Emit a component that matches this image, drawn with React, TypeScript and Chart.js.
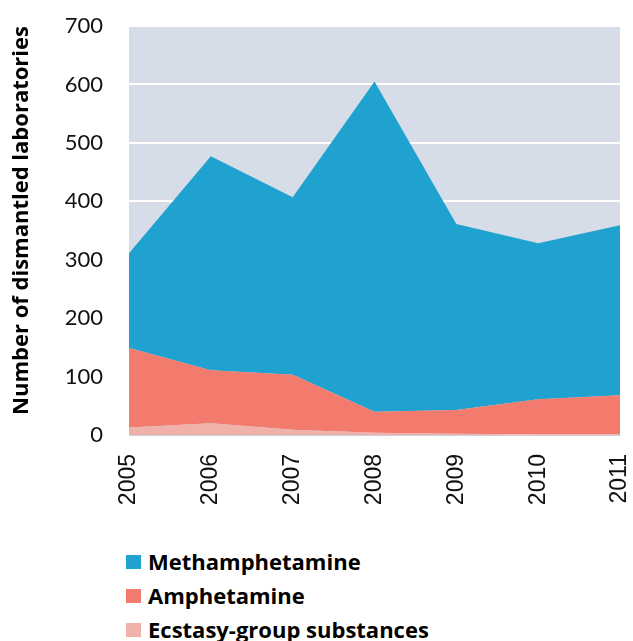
import React, { useEffect, useRef } from "react";
import { Chart, registerables } from "chart.js";

Chart.register(...registerables);

const years = ["2005", "2006", "2007", "2008", "2009", "2010", "2011"];
const ecstasy = [13, 20, 9, 4, 2, 1, 1];
const amphetamine = [136, 91, 94, 36, 41, 60, 67];
const methamphetamine = [162, 366, 304, 565, 318, 267, 291];

const seriesNames = ["Methamphetamine", "Amphetamine", "Ecstasy-group substances"];
const seriesColors = ["#1fa2cf", "#f27b6d", "#efb1a9"];

const yMin = 0;
const yMax = 700;
const yStep = 100;
const yTitle = "Number of dismantled laboratories";

const plotBg = {
  id: "plotBg",
  beforeDraw(chart: any) {
    const { ctx, chartArea } = chart;
    if (!chartArea) return;
    ctx.save();
    ctx.fillStyle = "#d6dde8";
    ctx.fillRect(chartArea.left, chartArea.top, chartArea.right - chartArea.left, chartArea.bottom - chartArea.top);
    ctx.restore();
  },
};

export default function App() {
  const ref = useRef<HTMLCanvasElement | null>(null);

  useEffect(() => {
    if (!ref.current) return;
    const chart = new Chart(ref.current, {
      type: "line",
      data: {
        labels: years,
        datasets: [
          {
            label: seriesNames[2],
            data: ecstasy,
            backgroundColor: seriesColors[2],
            borderWidth: 0,
            pointRadius: 0,
            fill: "origin",
          },
          {
            label: seriesNames[1],
            data: amphetamine,
            backgroundColor: seriesColors[1],
            borderWidth: 0,
            pointRadius: 0,
            fill: "-1",
          },
          {
            label: seriesNames[0],
            data: methamphetamine,
            backgroundColor: seriesColors[0],
            borderWidth: 0,
            pointRadius: 0,
            fill: "-1",
          },
        ],
      },
      options: {
        responsive: false,
        animation: false,
        layout: { padding: { top: 26, right: 13, left: 0, bottom: 0 } },
        plugins: {
          legend: { display: false },
          tooltip: { enabled: false },
        },
        elements: { line: { tension: 0 } },
        scales: {
          x: {
            type: "category",
            offset: false,
            grid: { display: false },
            border: { display: true, color: "#c9d1dd", width: 1 },
            ticks: {
              minRotation: 90,
              maxRotation: 90,
              padding: 11,
              color: "#111",
              font: { family: "'Liberation Sans', Arial, sans-serif", size: 23 },
            },
            afterFit: (scale: any) => {
              scale.height = 85;
              scale.paddingLeft = 0;
              scale.paddingRight = 0;
            },
          },
          y: {
            stacked: true,
            min: yMin,
            max: yMax,
            grid: { color: "#ffffff", lineWidth: 2, drawTicks: false },
            border: { display: false },
            ticks: {
              stepSize: yStep,
              padding: 26,
              color: "#111",
              font: { family: "Lato, sans-serif", size: 22 },
            },
            title: {
              display: true,
              text: yTitle,
              align: "end",
              color: "#000",
              font: { family: "'Open Sans', sans-serif", size: 22, weight: "bold" },
              padding: { top: 9, bottom: 0 },
            },
            afterFit: (scale: any) => {
              scale.width = 129;
              scale.paddingTop = 0;
              scale.paddingBottom = 0;
            },
          },
        },
      },
      plugins: [plotBg],
    } as any);
    return () => chart.destroy();
  }, []);

  const legendTops = [554, 588, 622];

  return (
    <div style={{ position: "absolute", left: 0, top: 0, width: 633, height: 641, background: "#fff" }}>
      <canvas ref={ref} width={633} height={520} style={{ display: "block", width: 633, height: 520 }} />
      {seriesNames.map((name, i) => (
        <div
          key={name}
          style={{
            position: "absolute",
            left: 126,
            top: legendTops[i],
            height: 15,
            display: "flex",
            alignItems: "center",
            whiteSpace: "nowrap",
          }}
        >
          <span style={{ display: "inline-block", width: 15, height: 14, background: seriesColors[i], marginRight: 7 }} />
          <span style={{ fontFamily: "'Open Sans', sans-serif", fontWeight: 700, fontSize: 22, color: "#000", lineHeight: "15px" }}>
            {name}
          </span>
        </div>
      ))}
    </div>
  );
}
